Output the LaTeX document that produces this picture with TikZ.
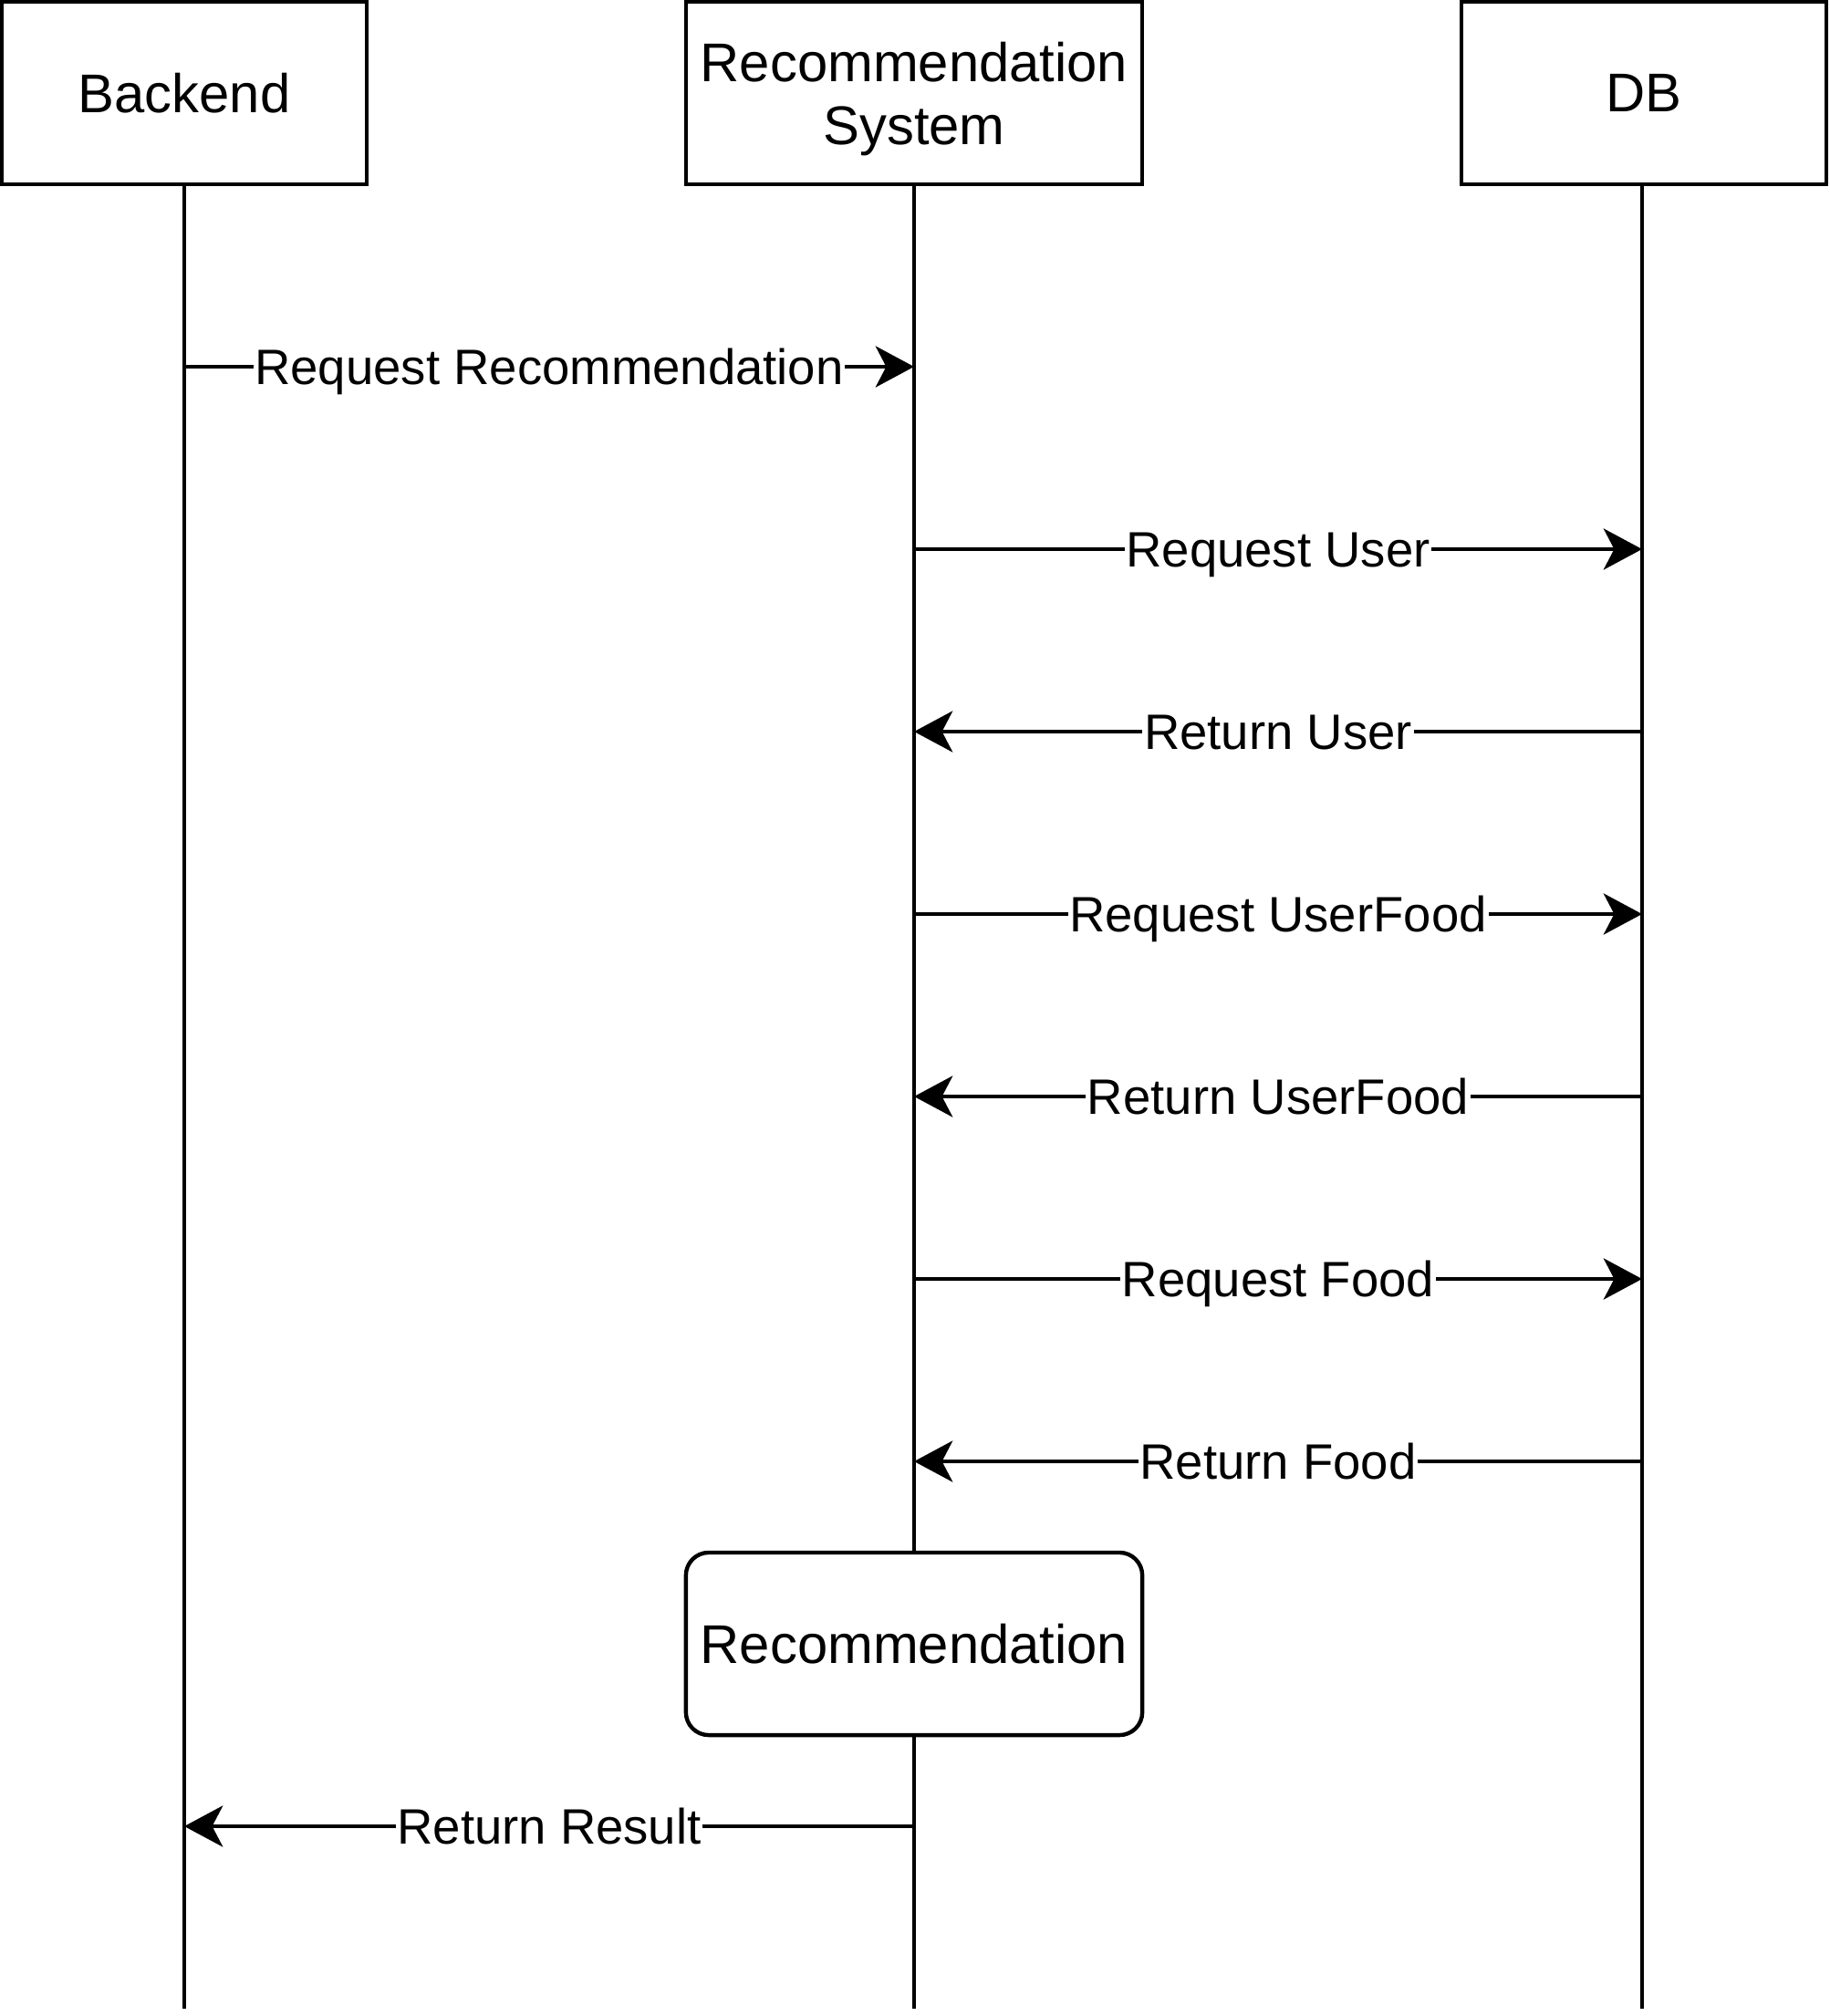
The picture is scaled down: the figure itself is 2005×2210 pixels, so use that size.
\documentclass[tikz,border=0pt]{standalone}
\usepackage{fontspec}
\setmainfont{Liberation Sans}
\usetikzlibrary{arrows.meta}
\begin{document}
\begin{tikzpicture}[x=0.01cm,y=-0.01cm,
  actor/.style={draw, line width=1.25pt, fill=white, minimum height=2cm,
    inner sep=0pt, align=center, font=\fontsize{17}{19.6}\selectfont},
  activity/.style={actor, rounded corners=0.25cm},
  life/.style={line width=1.2pt},
  msg/.style={line width=1.2pt, -{Stealth[length=12pt,width=12.8pt,inset=3.3pt]}},
  lbl/.style={fill=white, inner xsep=0.5pt, inner ysep=1pt,
    text height=11.1pt, text depth=0pt,
    font=\fontsize{15.5}{18}\selectfont}]
\useasboundingbox (0,0) rectangle (2005,2210);

% participants
\node[actor, minimum width=4cm] (backend) at (202,102) {Backend};
\node[actor, minimum width=5cm, text depth=-1pt] (recsys) at (1002,102) {Recommendation\\System};
\node[actor, minimum width=4cm] (db) at (1802,102) {DB};

% processing step on the recommendation lifeline
\node[activity, minimum width=5cm] (recbox) at (1002,1802) {Recommendation};

% lifeline ends
\coordinate (bend) at (202,2202);
\coordinate (rend) at (1002,2202);
\coordinate (dend) at (1800,2202);

\draw[life] (backend.south) -- (bend);
\draw[life] (recsys.south) -- (recbox.north);
\draw[life] (recbox.south) -- (rend);
\draw[life] (db.south -| dend) -- (dend);

% message rows
\coordinate (r1) at (0,402);
\coordinate (r2) at (0,602);
\coordinate (r3) at (0,802);
\coordinate (r4) at (0,1002);
\coordinate (r5) at (0,1202);
\coordinate (r6) at (0,1402);
\coordinate (r7) at (0,1602);
\coordinate (r8) at (0,2002);

\draw[msg] (backend |- r1) -- node[lbl] {Request Recommendation} (recsys |- r1);
\draw[msg] (recsys |- r2) -- node[lbl] {Request User} (dend |- r2);
\draw[msg] (dend |- r3) -- node[lbl] {Return User} (recsys |- r3);
\draw[msg] (recsys |- r4) -- node[lbl] {Request UserFood} (dend |- r4);
\draw[msg] (dend |- r5) -- node[lbl] {Return UserFood} (recsys |- r5);
\draw[msg] (recsys |- r6) -- node[lbl] {Request Food} (dend |- r6);
\draw[msg] (dend |- r7) -- node[lbl] {Return Food} (recsys |- r7);
\draw[msg] (recsys |- r8) -- node[lbl] {Return Result} (backend |- r8);
\end{tikzpicture}
\end{document}
